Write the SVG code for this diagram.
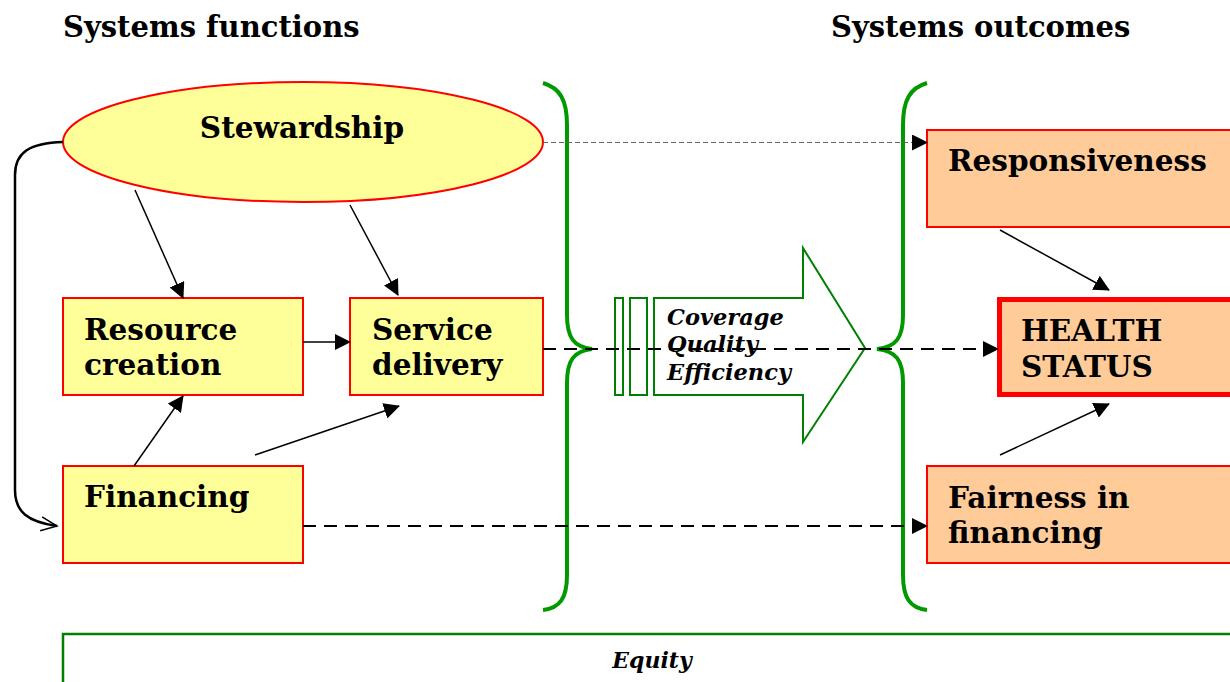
<svg xmlns="http://www.w3.org/2000/svg" width="1230" height="682" viewBox="0 0 1230 682">
<defs>
<style>
.t{font-family:"DejaVu Serif","Liberation Serif",serif;font-weight:bold;fill:#000}
.big{font-size:29.5px}
.ti{font-size:29px}
.it{font-family:"DejaVu Serif","Liberation Serif",serif;font-weight:bold;font-style:italic;font-size:22.5px;fill:#000}
.yel{fill:#ffff99;stroke:#ff0000;stroke-width:2}
.org{fill:#ffcc99;stroke:#ff0000;stroke-width:2}
.grn{fill:none;stroke:#009900;stroke-width:4}
.garrow{fill:#fff;stroke:#008000;stroke-width:2}
.ln{fill:none;stroke:#000;stroke-width:1.5}
.dash{fill:none;stroke:#000;stroke-width:2;stroke-dasharray:13 8}
</style>
<marker id="ahb" markerWidth="16" markerHeight="16" refX="15" refY="8" orient="auto" markerUnits="userSpaceOnUse" viewBox="0 0 16 16">
<path d="M0,0 L16,8 L0,16 z" fill="#000"/>
</marker>
<marker id="open" markerWidth="20" markerHeight="20" refX="18" refY="10" orient="auto" markerUnits="userSpaceOnUse" viewBox="0 0 20 20">
<path d="M2,3 L18,10 L2,17" fill="none" stroke="#000" stroke-width="1.5"/>
</marker>
</defs>
<rect width="1230" height="682" fill="#fff"/>
<text class="t ti" x="63" y="37">Systems functions</text>
<text class="t ti" x="831" y="37">Systems outcomes</text>

<g id="braces">
<path class="grn" d="M543,83 C560,88 567,100 567,125 L567,315 C567,338 574,347 592,349 C574,351 567,360 567,383 L567,575 C567,598 560,608 543,610"/>
<path class="grn" d="M927,83 C910,88 903,100 903,125 L903,315 C903,338 896,347 877,349 C896,351 903,360 903,383 L903,575 C903,598 910,608 927,610"/>
</g>

<g id="stewardship">
<ellipse class="yel" cx="303" cy="142" rx="240" ry="60"/>
<text class="t big" x="302" y="138" text-anchor="middle">Stewardship</text>
</g>
<g id="resource-creation">
<rect class="yel" x="63" y="298" width="240" height="97"/>
<text class="t big" x="84" y="340">Resource</text>
<text class="t big" x="84" y="375">creation</text>
</g>
<g id="service-delivery">
<rect class="yel" x="350" y="298" width="193" height="97"/>
<text class="t big" x="372" y="340">Service</text>
<text class="t big" x="372" y="375">delivery</text>
</g>
<g id="financing">
<rect class="yel" x="63" y="466" width="240" height="97"/>
<text class="t big" x="84" y="507">Financing</text>
</g>

<g id="responsiveness">
<rect class="org" x="927" y="130" width="310" height="97"/>
<text class="t big" x="948" y="171">Responsiveness</text>
</g>
<g id="health-status">
<rect x="999.5" y="299.5" width="240" height="95" style="fill:#ffcc99;stroke:#ff0000;stroke-width:5"/>
<text class="t big" x="1021" y="341">HEALTH</text>
<text class="t big" x="1021" y="377">STATUS</text>
</g>
<g id="fairness">
<rect class="org" x="927" y="466" width="310" height="97"/>
<text class="t big" x="948" y="508">Fairness in</text>
<text class="t big" x="948" y="543">financing</text>
</g>

<g id="quality-arrow">
<rect class="garrow" x="615" y="298" width="8" height="97"/>
<rect class="garrow" x="630" y="298" width="17" height="97"/>
<path class="garrow" d="M654,298 L803,298 L803,248 L865,348 L803,442 L803,395 L654,395 z"/>
<text class="it" x="667" y="325">Coverage</text>
<text class="it" x="667" y="352">Quality</text>
<text class="it" x="667" y="380">Efficiency</text>
</g>

<g id="equity">
<rect x="63" y="634" width="1180" height="60" fill="#fff" stroke="#008000" stroke-width="2.5"/>
<text class="it" x="652" y="668" text-anchor="middle" style="font-size:22px">Equity</text>
</g>

<g id="connectors">
<line class="ln" x1="135" y1="190" x2="183" y2="298" marker-end="url(#ahb)"/>
<line class="ln" x1="350" y1="205" x2="398" y2="295" marker-end="url(#ahb)"/>
<line class="ln" x1="303" y1="342" x2="350" y2="342" marker-end="url(#ahb)"/>
<line class="ln" x1="134" y1="466" x2="183" y2="396" marker-end="url(#ahb)"/>
<line class="ln" x1="255" y1="455" x2="399" y2="406" marker-end="url(#ahb)"/>
<line class="ln" x1="1000" y1="230" x2="1109" y2="290" marker-end="url(#ahb)"/>
<line class="ln" x1="1000" y1="455" x2="1109" y2="404" marker-end="url(#ahb)"/>
<line x1="543" y1="142.5" x2="927" y2="142.5" stroke="#666" stroke-width="1" stroke-dasharray="5 3" marker-end="url(#ahb)"/>
<line class="dash" x1="543" y1="349" x2="998" y2="349" marker-end="url(#ahb)"/>
<line class="dash" x1="303" y1="526" x2="927" y2="526" marker-end="url(#ahb)"/>
<path d="M63,142 C30,143 15,152 15,175 L15,490 C15,512 28,522 57,526" fill="none" stroke="#000" stroke-width="2.5" marker-end="url(#open)"/>
</g>
</svg>
